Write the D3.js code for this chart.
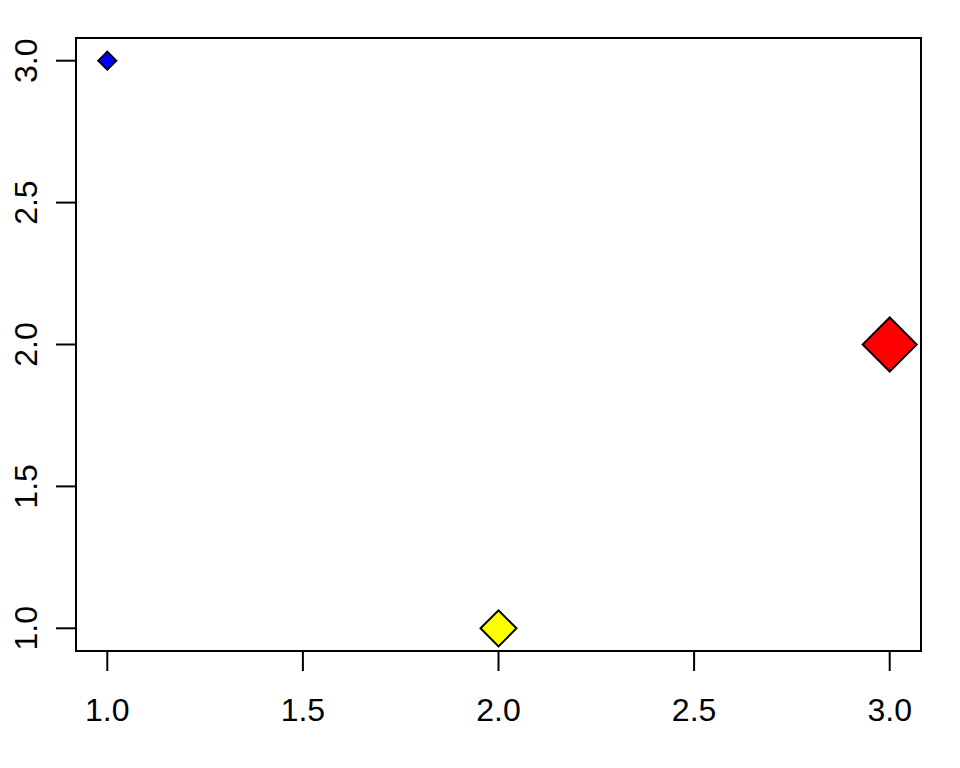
<!DOCTYPE html>
<html>
<head>
<meta charset="utf-8">
<script src="https://cdnjs.cloudflare.com/ajax/libs/d3/7.8.5/d3.min.js"></script>
<style>
  html, body { margin: 0; padding: 0; background: #fff; }
  svg { display: block; }
  text { font-family: "Liberation Sans", Arial, sans-serif; }
</style>
</head>
<body>
<svg id="chart" width="960" height="768"></svg>
<script>
const xValues = [1, 2, 3];
const yValues = [3, 1, 2];
const sizeValues = [1, 2, 3];
const fillColors = ["#0000FF", "#FFFF00", "#FF0000"];
const xTicks = [1.0, 1.5, 2.0, 2.5, 3.0];
const yTicks = [1.0, 1.5, 2.0, 2.5, 3.0];

const svg = d3.select("#chart");
const pLeft = 76, pRight = 921, pTop = 38, pBottom = 651;

const x = d3.scaleLinear().domain([0.92, 3.08]).range([pLeft, pRight]);
const y = d3.scaleLinear().domain([0.92, 3.08]).range([pBottom, pTop]);
const r = d3.scaleLinear().domain([0, 3]).range([0, 27]);

// points
const pts = xValues.map((v, i) => ({ x: v, y: yValues[i], s: sizeValues[i], c: fillColors[i] }));
svg.append("g").selectAll("path").data(pts).enter().append("path")
  .attr("d", d => d3.symbol().type(d3.symbolSquare).size(2 * r(d.s) * r(d.s))())
  .attr("transform", d => `translate(${x(d.x)},${y(d.y)}) rotate(45)`)
  .attr("fill", d => d.c)
  .attr("stroke", "#000")
  .attr("stroke-width", 2);

// box
svg.append("rect")
  .attr("x", pLeft).attr("y", pTop)
  .attr("width", pRight - pLeft).attr("height", pBottom - pTop)
  .attr("fill", "none").attr("stroke", "#000").attr("stroke-width", 2);

// x axis
const gx = svg.append("g");
gx.selectAll("line.t").data(xTicks).enter().append("line").attr("class", "t")
  .attr("x1", d => x(d)).attr("x2", d => x(d))
  .attr("y1", pBottom).attr("y2", pBottom + 20)
  .attr("stroke", "#000").attr("stroke-width", 2);
gx.selectAll("text").data(xTicks).enter().append("text")
  .attr("x", d => x(d)).attr("y", 721)
  .attr("text-anchor", "middle").attr("font-size", 32)
  .text(d => d.toFixed(1));

// y axis
const gy = svg.append("g");
gy.selectAll("line.t").data(yTicks).enter().append("line").attr("class", "t")
  .attr("x1", pLeft - 20).attr("x2", pLeft)
  .attr("y1", d => y(d)).attr("y2", d => y(d))
  .attr("stroke", "#000").attr("stroke-width", 2);
gy.selectAll("text").data(yTicks).enter().append("text")
  .attr("transform", d => `translate(37,${y(d)}) rotate(-90)`)
  .attr("text-anchor", "middle").attr("font-size", 32)
  .text(d => d.toFixed(1));
</script>
</body>
</html>
